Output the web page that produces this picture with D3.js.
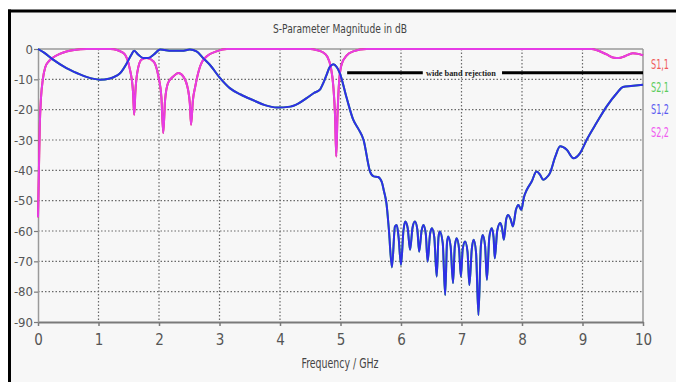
<!DOCTYPE html>
<html>
<head>
<meta charset="utf-8">
<script src="https://cdn.jsdelivr.net/npm/d3@7"></script>
<style>
  html, body { margin: 0; padding: 0; background: #ffffff; }
  svg { display: block; }
</style>
</head>
<body>
<svg id="chart" width="676" height="382"></svg>
<script>
// ---------------- data ----------------
const chartTitle = "S-Parameter Magnitude in dB";
const xTitle = "Frequency / GHz";
const xTicks = [0, 1, 2, 3, 4, 5, 6, 7, 8, 9, 10];
const yTicks = [0, -10, -20, -30, -40, -50, -60, -70, -80, -90];
const seriesNames = ["S1,1", "S2,1", "S1,2", "S2,2"];

// S2,2 (reflection) frequency (GHz) / magnitude (dB)
const s22Freq = [0, 0.015, 0.03, 0.05, 0.08, 0.12, 0.18, 0.25, 0.35, 0.47, 0.6, 0.8, 1.2, 1.41, 1.52, 1.57, 1.59, 1.61, 1.64, 1.71, 1.80, 1.91, 1.99, 2.04, 2.07, 2.10, 2.15, 2.24, 2.32, 2.40, 2.48, 2.51, 2.53, 2.56, 2.60, 2.68, 2.79, 2.95, 3.12, 4.5, 4.6, 4.7, 4.78, 4.84, 4.88, 4.91, 4.93, 4.95, 4.98, 5.02, 5.1, 5.21, 5.43, 9.15, 9.25, 9.4, 9.52, 9.6, 9.7, 9.83, 9.92, 10];
const s22dB   = [-55.5, -40, -25, -16, -10, -6, -4, -2.8, -1.7, -0.8, -0.3, 0, 0, -1.3, -6.8, -14, -21.7, -14, -7.9, -3.5, -3, -4.1, -9, -16, -27.7, -17, -11.2, -9, -7.9, -9, -13.4, -18, -25, -17, -12.3, -5.7, -2.4, -0.8, 0, 0, -0.3, -1, -2.5, -6, -12, -22, -35.4, -22, -10, -5, -2.2, -0.8, 0, 0, -0.5, -1.8, -2.9, -3, -2.4, -1.4, -1.6, -2.1];

// S1,2 (transmission) frequency (GHz) / magnitude (dB)
const s12Freq = [0, 0.1, 0.25, 0.47, 0.65, 0.8, 1.02, 1.19, 1.3, 1.36, 1.47, 1.54, 1.59, 1.66, 1.74, 1.82, 1.91, 2.02, 2.21, 2.38, 2.51, 2.62, 2.73, 2.84, 3.01, 3.17, 3.35, 3.56, 3.75, 3.95, 4.17, 4.3, 4.44, 4.56, 4.66, 4.72, 4.77, 4.82, 4.88, 4.94, 4.99, 5.1, 5.21, 5.3, 5.38, 5.49, 5.55, 5.62, 5.68, 5.72, 5.76, 5.80, 5.85, 5.90, 5.93, 5.96, 6.00, 6.04, 6.07, 6.11, 6.15, 6.19, 6.23, 6.27, 6.30, 6.34, 6.37, 6.41, 6.44, 6.48, 6.51, 6.55, 6.59, 6.62, 6.64, 6.69, 6.73, 6.76, 6.78, 6.82, 6.86, 6.89, 6.92, 6.96, 6.99, 7.02, 7.06, 7.10, 7.13, 7.17, 7.20, 7.24, 7.28, 7.32, 7.35, 7.39, 7.42, 7.46, 7.50, 7.53, 7.55, 7.59, 7.64, 7.67, 7.70, 7.74, 7.77, 7.81, 7.85, 7.90, 7.94, 7.97, 7.99, 8.03, 8.08, 8.16, 8.24, 8.30, 8.35, 8.40, 8.46, 8.55, 8.63, 8.74, 8.85, 8.96, 9.07, 9.23, 9.40, 9.57, 9.67, 9.80, 10];
const s12dB   = [0, -1.2, -3.5, -6.3, -8, -9.2, -10.1, -9.7, -8.8, -7.9, -4.6, -2, -0.6, -1.9, -3, -3, -1.9, -0.2, -0.6, -0.6, -0.2, -0.8, -3, -5.2, -9.6, -12.9, -15, -16.9, -18.5, -19.3, -19, -18, -16.2, -14.5, -13.4, -11, -8.5, -6, -5, -6, -8, -16, -23.3, -26.5, -29.9, -40.5, -42, -42.2, -43.7, -47, -51, -59.6, -72, -58.5, -58, -62, -71.2, -60, -56.9, -59, -66.2, -59, -56.9, -59.5, -66.8, -60, -58, -61, -70.1, -61, -59.1, -62, -75, -62, -60.2, -64, -81.1, -64, -61.8, -65, -77.2, -65, -62.4, -66, -75, -66, -63.5, -67, -77.8, -66, -62.9, -67, -87.7, -65, -61.3, -65, -76.1, -62, -59.1, -62, -69, -60, -57.4, -59, -62.9, -56, -54.7, -56, -58.5, -53, -51.4, -52.5, -53, -49, -46.4, -43.7, -40.4, -41.5, -43.1, -42.5, -41, -35.5, -32.1, -33.2, -36, -34.3, -29.9, -24.4, -18.9, -14.5, -12.5, -12.2, -11.8];

// annotation: "wide band rejection" marker (GHz, dB)
const annoText = "wide band rejection";
const annoLevel = -7.8;
const annoSeg1 = [5.11, 6.36];
const annoSeg2 = [7.67, 10];
const annoTextAt = 6.99;

// ---------------- drawing ----------------
const svg = d3.select("#chart");
const W = 676, H = 382;
const font = "'Liberation Sans Narrow', 'DejaVu Sans Condensed', 'Liberation Sans', sans-serif";

// outer panel: light fill with black left and top edges
svg.append("rect").attr("x", 9.5).attr("y", 11).attr("width", W).attr("height", H)
  .attr("fill", "#f7f7f7");
svg.append("line").attr("x1", 9.5).attr("x2", 9.5).attr("y1", 9.5).attr("y2", H)
  .attr("stroke", "#000").attr("stroke-width", 3);
svg.append("line").attr("x1", 8).attr("x2", W).attr("y1", 11).attr("y2", 11)
  .attr("stroke", "#000").attr("stroke-width", 3);

const x = d3.scaleLinear().domain([0, 10]).range([38, 643]);
const y = d3.scaleLinear().domain([-90, 0]).range([322, 49]);

// grid (dotted)
const grid = svg.append("g");
grid.selectAll("line.gx").data(xTicks.filter(d => d > 0 && d < 10)).join("line")
  .attr("x1", d => x(d)).attr("x2", d => x(d)).attr("y1", y(0)).attr("y2", y(-90))
  .attr("stroke", "#6a6a6a").attr("stroke-width", 1.2).attr("stroke-dasharray", "1.5,2");
grid.selectAll("line.gy").data(yTicks.filter(d => d < 0 && d > -90)).join("line")
  .attr("x1", x(0)).attr("x2", x(10)).attr("y1", d => y(d)).attr("y2", d => y(d))
  .attr("stroke", "#6a6a6a").attr("stroke-width", 1.2).attr("stroke-dasharray", "1.5,2");

// plot frame: top and right grey borders
svg.append("line").attr("x1", x(0)).attr("x2", x(10)).attr("y1", y(0)).attr("y2", y(0))
  .attr("stroke", "#9a9a9a").attr("stroke-width", 1.5);
svg.append("line").attr("x1", x(10)).attr("x2", x(10)).attr("y1", y(0)).attr("y2", y(-90))
  .attr("stroke", "#9a9a9a").attr("stroke-width", 1.5);

// axes
const xAxis = d3.axisBottom(x).tickValues(xTicks).tickSize(4).tickSizeOuter(0).tickFormat(d3.format("d"));
const gx = svg.append("g").attr("transform", `translate(0,${y(-90)})`).call(xAxis);
gx.select(".domain").attr("stroke", "#7a7a7a").attr("stroke-width", 2.2);
gx.selectAll(".tick line").attr("stroke", "#7a7a7a").attr("stroke-width", 1.5);
gx.selectAll(".tick text").attr("font-family", font).attr("font-size", 15)
  .attr("fill", "#555").attr("dy", "1.05em");

const yAxis = d3.axisLeft(y).tickValues(yTicks).tickSize(4).tickSizeOuter(0).tickFormat(d => d === 0 ? "0" : "-" + Math.abs(d));
const gy = svg.append("g").attr("transform", `translate(${x(0)},0)`).call(yAxis);
gy.select(".domain").attr("stroke", "#9a9a9a").attr("stroke-width", 1.5);
gy.selectAll(".tick line").attr("stroke", "#7a7a7a").attr("stroke-width", 1.2);
gy.selectAll(".tick text").attr("font-family", font).attr("font-size", 13)
  .attr("fill", "#555").attr("x", -5);

// traces
const line = d3.line().x(d => x(d[0])).y(d => y(d[1])).curve(d3.curveMonotoneX);
const s22 = s22Freq.map((f, i) => [f, s22dB[i]]);
const s12 = s12Freq.map((f, i) => [f, s12dB[i]]);
const traces = [
  { name: "S1,1", pts: s22, color: "#e83030" },   // coincides with S2,2 (symmetric network)
  { name: "S2,1", pts: s12, color: "#30c030" },   // coincides with S1,2
  { name: "S2,2", pts: s22, color: "#e63ce6" },
  { name: "S1,2", pts: s12, color: "#2e2ee8" }
];
svg.append("g").selectAll("path").data(traces).join("path")
  .attr("d", d => line(d.pts)).attr("fill", "none")
  .attr("stroke", d => d.color).attr("stroke-width", 2)
  .attr("stroke-linejoin", "round");

// annotation
const ga = svg.append("g");
[annoSeg1, annoSeg2].forEach(s => {
  ga.append("line").attr("x1", x(s[0])).attr("x2", x(s[1]))
    .attr("y1", y(annoLevel)).attr("y2", y(annoLevel))
    .attr("stroke", "#000").attr("stroke-width", 3);
});
ga.append("text").attr("x", x(annoTextAt)).attr("y", y(annoLevel) + 3)
  .attr("text-anchor", "middle").attr("font-family", "'Liberation Serif', serif")
  .attr("font-size", 9).attr("fill", "#222").attr("font-weight", "bold")
  .attr("textLength", 70).attr("lengthAdjust", "spacingAndGlyphs")
  .text(annoText);

// title
svg.append("text").attr("x", 340).attr("y", 33).attr("text-anchor", "middle")
  .attr("font-family", font).attr("font-size", 13).attr("fill", "#444")
  .attr("textLength", 134).attr("lengthAdjust", "spacingAndGlyphs")
  .text(chartTitle);

// x axis title
svg.append("text").attr("x", 340).attr("y", 368).attr("text-anchor", "middle")
  .attr("font-family", font).attr("font-size", 14).attr("fill", "#444")
  .attr("textLength", 77).attr("lengthAdjust", "spacingAndGlyphs")
  .text(xTitle);

// legend
const legendColors = { "S1,1": "#f05a5a", "S2,1": "#5ccc5c", "S1,2": "#5a5af0", "S2,2": "#f05af0" };
svg.append("g").selectAll("text").data(seriesNames).join("text")
  .attr("x", 651).attr("y", (d, i) => 69 + i * 22.7)
  .attr("font-family", font).attr("font-size", 14)
  .attr("fill", d => legendColors[d])
  .attr("textLength", 18).attr("lengthAdjust", "spacingAndGlyphs")
  .text(d => d);
</script>
</body>
</html>
